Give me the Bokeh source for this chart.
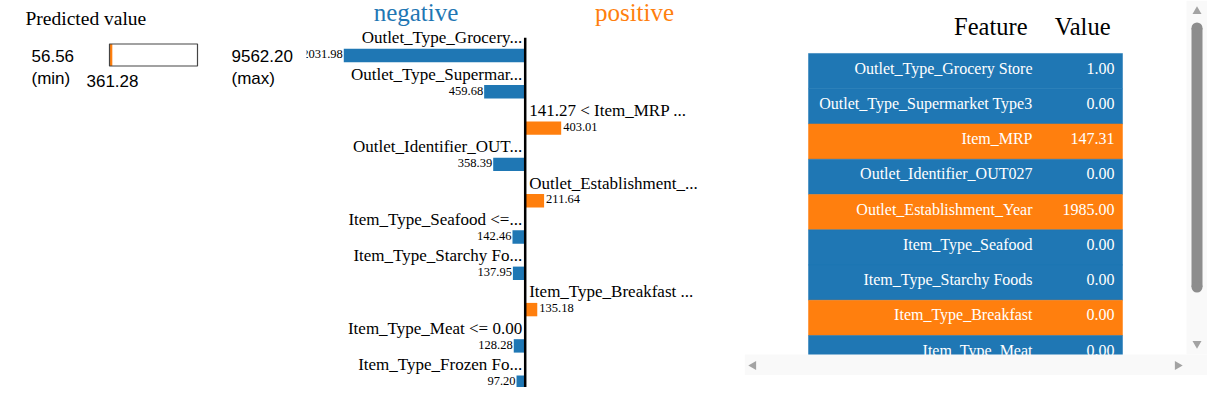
from bokeh.plotting import figure
from bokeh.layouts import row
from bokeh.models import Range1d, ColumnDataSource
from bokeh.core.properties import value
from bokeh.embed import file_html
from bokeh.resources import INLINE
import math

# ---------------- data ----------------
pred_min = 56.56
pred_val = 361.28
pred_max = 9562.20

bar_labels = [
    "Outlet_Type_Grocery...",
    "Outlet_Type_Supermar...",
    "141.27 < Item_MRP ...",
    "Outlet_Identifier_OUT...",
    "Outlet_Establishment_...",
    "Item_Type_Seafood <=...",
    "Item_Type_Starchy Fo...",
    "Item_Type_Breakfast ...",
    "Item_Type_Meat <= 0.00",
    "Item_Type_Frozen Fo...",
]
contrib = [-2031.98, -459.68, 403.01, -358.39, 211.64, -142.46, -137.95, 135.18, -128.28, -97.20]

table_features = [
    "Outlet_Type_Grocery Store",
    "Outlet_Type_Supermarket Type3",
    "Item_MRP",
    "Outlet_Identifier_OUT027",
    "Outlet_Establishment_Year",
    "Item_Type_Seafood",
    "Item_Type_Starchy Foods",
    "Item_Type_Breakfast",
    "Item_Type_Meat",
    "Item_Type_Frozen Foods",
]
table_values = [1.00, 0.00, 147.31, 0.00, 1985.00, 0.00, 0.00, 0.00, 0.00, 0.00]

BLUE = "#1f77b4"
ORANGE = "#ff7f0e"
SERIF = value("Liberation Serif")
SANS = value("Liberation Sans")
TDY = -8.0  # vertical correction for text baselines


def mkfig(w, h, x0, y0):
    p = figure(width=w, height=h,
               x_range=Range1d(x0, x0 + w), y_range=Range1d(y0 + h, y0),
               x_axis_type=None, y_axis_type=None,
               output_backend="svg", toolbar_location=None,
               min_border=0, min_border_left=0, min_border_right=0,
               min_border_top=0, min_border_bottom=0)
    p.grid.visible = False
    p.outline_line_color = None
    p.background_fill_color = "white"
    p.border_fill_color = "white"
    return p


# ---------------- predicted value panel ----------------
pa = mkfig(306, 401, 0, 0)
box_l, box_r = 109.0, 197.0
s = (pred_max - pred_min) / (box_r - box_l)
pa.extra_x_ranges = {"pred": Range1d(pred_min - box_l * s, pred_min + (306 - box_l) * s)}

pa.text(x=[25], y=[26 + TDY], text=["Predicted value"], text_font=SERIF,
        text_font_size="19.5px", text_color="black", text_baseline="alphabetic")
pa.quad(left=[pred_min], right=[pred_max], top=[43.5], bottom=[65.5], x_range_name="pred",
        fill_color="white", line_color=None)
pa.quad(left=[pred_min], right=[pred_val], top=[43.5], bottom=[65.5], x_range_name="pred",
        fill_color=ORANGE, line_color=None)
pa.quad(left=[pred_min], right=[pred_max], top=[43.5], bottom=[65.5], x_range_name="pred",
        fill_color=None, line_color="#444444", line_width=1.2)

pa.text(x=[31, 31], y=[63 + TDY, 86 + TDY], text=["%.2f" % pred_min, "(min)"], text_font=SANS,
        text_font_size="17px", text_color="black", text_baseline="alphabetic")
pa.text(x=[86], y=[88.5 + TDY], text=["%.2f" % pred_val], text_font=SANS,
        text_font_size="17px", text_color="black", text_baseline="alphabetic")
pa.text(x=[231, 231], y=[63 + TDY, 86 + TDY], text=["%.2f" % pred_max, "(max)"], text_font=SANS,
        text_font_size="17px", text_color="black", text_baseline="alphabetic")

# ---------------- bar chart panel ----------------
pb = mkfig(438, 387, 306, 0)
AXIS_X = 524.7
UPP = 11.2  # contribution units per pixel
ROW0, PITCH = 55.0, 36.3
pb.extra_x_ranges = {"contrib": Range1d((306 - AXIS_X) * UPP, (744 - AXIS_X) * UPP)}
pb.extra_y_ranges = {"rows": Range1d((387 - ROW0) / PITCH, (0 - ROW0) / PITCH)}

idx = list(range(len(contrib)))
colors = [ORANGE if v > 0 else BLUE for v in contrib]
src = ColumnDataSource(dict(y=idx, right=contrib, left=[0] * len(contrib), color=colors))
pb.hbar(y="y", left="left", right="right", height=13.4 / PITCH, fill_color="color",
        line_color=None, source=src, x_range_name="contrib", y_range_name="rows")

neg = [i for i in idx if contrib[i] < 0]
pos = [i for i in idx if contrib[i] > 0]
lab_dy = (-9.7 + TDY) / PITCH
val_dy = (6.7 + TDY) / PITCH
pb.text(x=[0] * len(neg), y=[i + lab_dy for i in neg], text=[bar_labels[i] for i in neg],
        x_offset=-3, x_range_name="contrib", y_range_name="rows",
        text_font=SERIF, text_font_size="17px", text_align="right", text_baseline="alphabetic",
        text_color="black")
pb.text(x=[0] * len(pos), y=[i + lab_dy for i in pos], text=[bar_labels[i] for i in pos],
        x_offset=4, x_range_name="contrib", y_range_name="rows",
        text_font=SERIF, text_font_size="17px", text_align="left", text_baseline="alphabetic",
        text_color="black")
pb.text(x=[contrib[i] for i in neg], y=[i + val_dy for i in neg],
        text=["%.2f" % abs(contrib[i]) for i in neg],
        x_offset=-1, x_range_name="contrib", y_range_name="rows",
        text_font=SERIF, text_font_size="12.5px", text_align="right", text_baseline="alphabetic",
        text_color="black")
pb.text(x=[contrib[i] for i in pos], y=[i + val_dy for i in pos],
        text=["%.2f" % abs(contrib[i]) for i in pos],
        x_offset=2, x_range_name="contrib", y_range_name="rows",
        text_font=SERIF, text_font_size="12.5px", text_align="left", text_baseline="alphabetic",
        text_color="black")
pb.segment(x0=[0], x1=[0], y0=[37.3], y1=[400], x_range_name="contrib",
           line_color="black", line_width=2.5)
pb.text(x=[415.5], y=[19.5 + TDY], text=["negative"], text_font=SERIF, text_font_size="25px",
        text_align="center", text_baseline="alphabetic", text_color=BLUE)
pb.text(x=[634], y=[19.5 + TDY], text=["positive"], text_font=SERIF, text_font_size="25px",
        text_align="center", text_baseline="alphabetic", text_color=ORANGE)

# ---------------- table panel ----------------
pc = mkfig(463, 375, 744, 0)
TROW0, TPITCH = 70.6, 35.25
pc.extra_y_ranges = {"trows": Range1d((375 - TROW0) / TPITCH, (0 - TROW0) / TPITCH)}

pc.text(x=[1027, 1110], y=[34 + TDY, 34 + TDY], text=["Feature", "Value"], text_font=SERIF,
        text_font_size="24.5px", text_align="right", text_baseline="alphabetic",
        text_color="black")
tidx = list(range(len(table_features)))
tsrc = ColumnDataSource(dict(
    y=tidx, color=colors, feat=table_features,
    val=["%.2f" % v for v in table_values],
    ty=[i + (5.0 + TDY) / TPITCH for i in tidx],
))
pc.hbar(y="y", left=808, right=1122, height=1.0, fill_color="color", line_color="color",
        line_width=0.5, source=tsrc, y_range_name="trows")
pc.text(x=1032, y="ty", text="feat", source=tsrc, y_range_name="trows",
        text_font=SERIF, text_font_size="16px", text_align="right",
        text_baseline="alphabetic", text_color="white")
pc.text(x=1114, y="ty", text="val", source=tsrc, y_range_name="trows",
        text_font=SERIF, text_font_size="16px", text_align="right",
        text_baseline="alphabetic", text_color="white")

# scrollbars (decoration)
SB = "#f9f9f9"
pc.quad(left=[744], right=[1207], top=[354], bottom=[375], fill_color=SB, line_color=None)
pc.quad(left=[1186], right=[1207], top=[0], bottom=[354], fill_color=SB, line_color=None)
pc.quad(left=[1191], right=[1202], top=[27.5], bottom=[286.5], fill_color="#8d8d8d", line_color=None)
pc.circle(x=[1196.5, 1196.5], y=[27.5, 286.5], radius=5.5, fill_color="#8d8d8d", line_color=None)
pc.scatter(x=[1196.5], y=[11], marker="triangle", size=9, fill_color="#a3a3a3", line_color=None)
pc.scatter(x=[1196.5], y=[343], marker="inverted_triangle", size=9, fill_color="#a3a3a3", line_color=None)
pc.scatter(x=[753], y=[365], marker="triangle", angle=math.pi / 2, size=9,
           fill_color="#a3a3a3", line_color=None)
pc.scatter(x=[1177], y=[365], marker="triangle", angle=-math.pi / 2, size=9,
           fill_color="#a3a3a3", line_color=None)

layout = row(pa, pb, pc, spacing=0)
open("out.html", "w").write(file_html(layout, INLINE))
